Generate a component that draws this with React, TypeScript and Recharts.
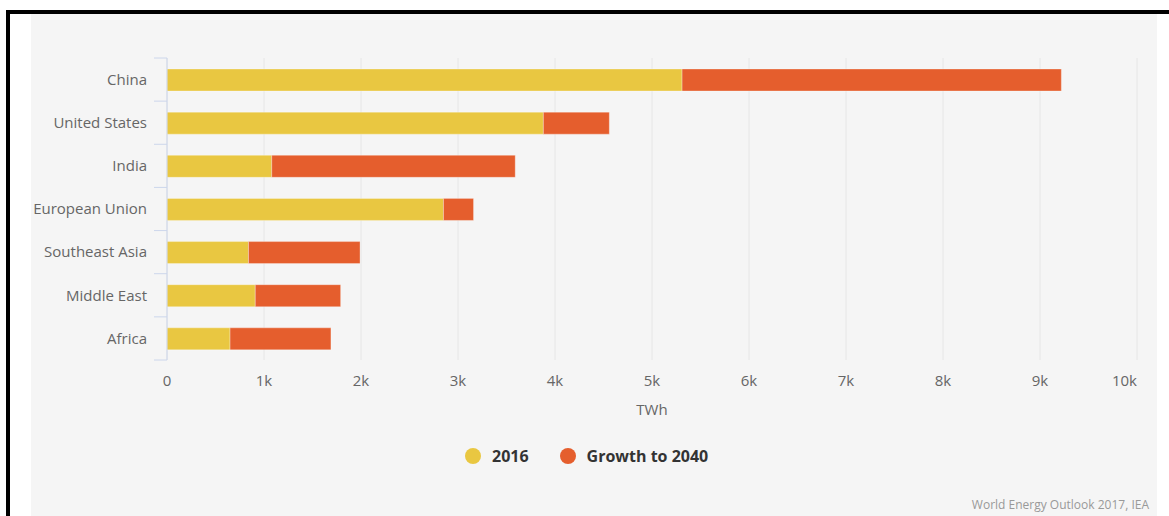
import React from "react";
import { BarChart, Bar, XAxis, YAxis, CartesianGrid } from "recharts";

// data (TWh)
const regions = ["China", "United States", "India", "European Union", "Southeast Asia", "Middle East", "Africa"];
const demand2016 = [5310, 3880, 1080, 2850, 840, 910, 650];
const growthTo2040 = [3910, 680, 2510, 310, 1150, 880, 1040];
const xTicks = [0, 1000, 2000, 3000, 4000, 5000, 6000, 7000, 8000, 9000, 10000];

const series = [
  { key: "y2016", name: "2016", color: "#E9C741" },
  { key: "growth", name: "Growth to 2040", color: "#E55E2D" },
];

const rows = regions.map((region, i) => ({
  region,
  y2016: demand2016[i],
  growth: growthTo2040[i],
}));

// layout
const W = 1169;
const H = 516;
const PLOT_LEFT = 167;
const PLOT_RIGHT = 1137;
const PLOT_TOP = 58;
const PLOT_BOTTOM = 360;
const Y_AXIS_W = 140;
const X_AXIS_H = 60;
const AXIS_BLUE = "#ccd6eb";
const LABEL = "#666666";
const FONT = "'Open Sans', 'Noto Sans', sans-serif";

const halfBand = (PLOT_BOTTOM - PLOT_TOP) / regions.length / 2;

function RegionTick(props: any) {
  const { y, payload, index, visibleTicksCount } = props;
  const last = index === visibleTicksCount - 1;
  return (
    <g>
      <line x1={PLOT_LEFT - 13} x2={PLOT_LEFT} y1={y - halfBand} y2={y - halfBand} stroke={AXIS_BLUE} />
      {last && (
        <line x1={PLOT_LEFT - 13} x2={PLOT_LEFT} y1={y + halfBand} y2={y + halfBand} stroke={AXIS_BLUE} />
      )}
      <text x={PLOT_LEFT - 20} y={y} dy="0.35em" textAnchor="end" fill={LABEL} fontSize={15} fontFamily={FONT}>
        {payload.value}
      </text>
    </g>
  );
}

const fmtK = (v: number) => (v === 0 ? "0" : `${v / 1000}k`);

// highcharts keeps the last label inside the plot
function ValueTick(props: any) {
  const { x, payload } = props;
  const last = payload.value === xTicks[xTicks.length - 1];
  return (
    <text
      x={last ? PLOT_RIGHT : x}
      y={PLOT_BOTTOM + 21}
      dy="0.35em"
      textAnchor={last ? "end" : "middle"}
      fill={LABEL}
      fontSize={15}
      fontFamily={FONT}
    >
      {fmtK(payload.value)}
    </text>
  );
}

export default function App() {
  return (
    <div style={{ position: "absolute", left: 0, top: 0, width: W, height: H, background: "#fff", overflow: "hidden", fontFamily: FONT }}>
      {/* screenshot frame */}
      <div style={{ position: "absolute", left: 6, top: 10, width: W - 6, height: 4, background: "#000" }} />
      <div style={{ position: "absolute", left: 6, top: 10, width: 4, height: H - 10, background: "#000" }} />
      <div style={{ position: "absolute", left: 31, top: 14, width: 1126, height: H - 14, background: "#f5f5f5" }} />

      <div style={{ position: "absolute", left: 0, top: 0 }}>
        <BarChart
          width={W}
          height={H}
          data={rows}
          layout="vertical"
          barSize={22}
          margin={{ top: PLOT_TOP, right: W - PLOT_RIGHT, left: PLOT_LEFT - Y_AXIS_W, bottom: H - PLOT_BOTTOM - X_AXIS_H }}
        >
          <CartesianGrid horizontal={false} stroke="#e6e6e6" />
          <XAxis
            type="number"
            domain={[0, 10000]}
            ticks={xTicks}
            axisLine={false}
            tickLine={false}
            height={X_AXIS_H}
            tick={<ValueTick />}
            interval={0}
            label={{ value: "TWh", position: "insideBottom", offset: 5, fill: LABEL, fontSize: 15, fontFamily: FONT }}
          />
          <YAxis
            type="category"
            dataKey="region"
            width={Y_AXIS_W}
            axisLine={{ stroke: AXIS_BLUE }}
            tickLine={false}
            tick={<RegionTick />}
            interval={0}
          />
          {series.map((s) => (
            <Bar
              key={s.key}
              dataKey={s.key}
              name={s.name}
              stackId="a"
              fill={s.color}
              stroke="#ffffff"
              strokeOpacity={0.3}
              strokeWidth={1}
              isAnimationActive={false}
            />
          ))}
        </BarChart>
      </div>

      {/* legend */}
      <div style={{ position: "absolute", left: 465, top: 446, display: "flex", alignItems: "center", height: 20 }}>
        {series.map((s, i) => (
          <div key={s.key} style={{ display: "flex", alignItems: "center", marginLeft: i === 0 ? 0 : 31 }}>
            <span style={{ width: 16, height: 16, borderRadius: 8, background: s.color, display: "inline-block" }} />
            <span style={{ marginLeft: 11, fontSize: 16, fontWeight: 700, color: "#333" }}>{s.name}</span>
          </div>
        ))}
      </div>

      {/* credit */}
      <div style={{ position: "absolute", right: W - 1149, top: 496, fontSize: 12, color: "#999" }}>
        World Energy Outlook 2017, IEA
      </div>
    </div>
  );
}
